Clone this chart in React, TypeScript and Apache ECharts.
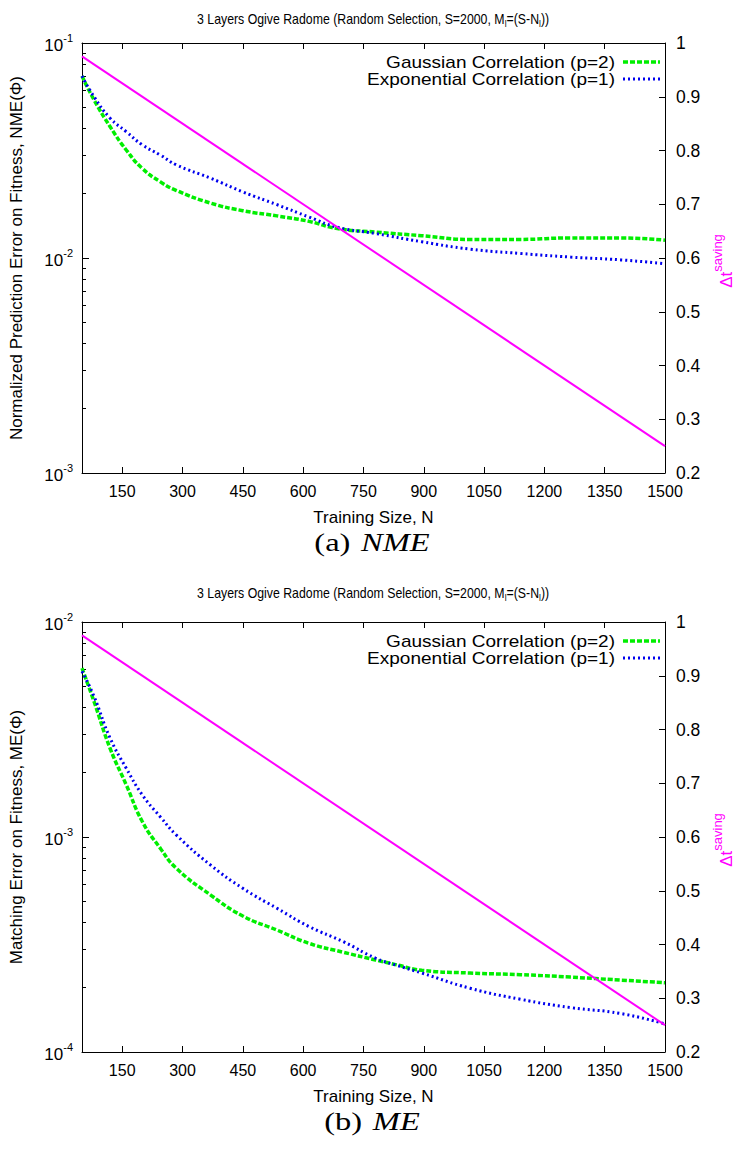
import React, { useEffect, useRef } from "react";
import * as echarts from "echarts";

// ---------- data ----------
const X_TICKS = [150, 300, 450, 600, 750, 900, 1050, 1200, 1350, 1500];
const RIGHT_MIN = 0.2;
const RIGHT_MAX = 1;

const N_TOP = [50, 80, 120, 160, 200, 245, 285, 370, 450, 535, 615, 685, 780, 895, 1015, 1140, 1265, 1390, 1500];
const NME_GAUSS = [0.0702, 0.0543, 0.0408, 0.0318, 0.0261, 0.0226, 0.0206, 0.018, 0.0166, 0.0157, 0.0148, 0.0137, 0.0132, 0.0127, 0.0122, 0.0122, 0.0124, 0.0124, 0.0121];
const NME_EXP = [0.0702, 0.0562, 0.0447, 0.0387, 0.0336, 0.0301, 0.0271, 0.0235, 0.0203, 0.0177, 0.0155, 0.0139, 0.013, 0.0119, 0.011, 0.0105, 0.0101, 0.0098, 0.0094];

const N_BOTTOM = [50, 80, 120, 160, 200, 245, 285, 370, 450, 535, 615, 700, 780, 830, 895, 1015, 1140, 1265, 1390, 1500];
const ME_GAUSS = [0.0061, 0.00426, 0.00258, 0.00175, 0.00118, 0.000885, 0.000714, 0.000537, 0.000429, 0.000369, 0.00032, 0.000291, 0.000268, 0.000255, 0.00024, 0.000233, 0.000229, 0.000223, 0.000216, 0.00021];
const ME_EXP = [0.0059, 0.0045, 0.00288, 0.00209, 0.00157, 0.00124, 0.00102, 0.00074, 0.000577, 0.000466, 0.000383, 0.000326, 0.000273, 0.000254, 0.000233, 0.000198, 0.000176, 0.000161, 0.000151, 0.000135];

const N_SAVING = [50, 1500];
const SAVING = [0.975, 0.25];

const LEGEND_NAMES = ["Gaussian Correlation (p=2)", "Exponential Correlation (p=1)"];
const LEFT_NAMES = ["Normalized Prediction Error on Fitness, NME(Φ)", "Matching Error on Fitness, ME(Φ)"];
const LOG_RANGES = [[1e-3, 1e-1], [1e-4, 1e-2]];
const CAPTION_LABELS = ["(a)", "(b)"];
const CAPTION_NAMES = ["NME", "ME"];
const X_NAME = "Training Size, N";
const TITLE = "3 Layers Ogive Radome (Random Selection, S=2000, M{u|l}=(S-N{u|l}))";

// ---------- style ----------
const FONT = '"Liberation Sans", Arial, Helvetica, sans-serif';
const SERIF = '"Liberation Serif", "DejaVu Serif", serif';
const GREEN = "#00ee00";
const BLUE = "#0000ee";
const PINK = "#ff00ff";
const PANEL_TOPS = [43, 622];
const TITLE_OFFSETS = [24, 29];
const PLOT_LEFT = 80;
const PLOT_W = 585;
const PLOT_H = 430;

function minorLogTicks(lo: number, hi: number): number[] {
  const out: number[] = [];
  const a = Math.round(Math.log10(lo));
  const b = Math.round(Math.log10(hi));
  for (let d = a; d < b; d++) {
    for (let k = 2; k <= 9; k++) out.push(d + Math.log10(k));
  }
  return out;
}

export default function App() {
  const ref = useRef<HTMLDivElement>(null);

  useEffect(() => {
    if (!ref.current) return;
    const chart = echarts.init(ref.current, undefined, { renderer: "svg" });

    const grids: any[] = [];
    const xAxes: any[] = [];
    const yAxes: any[] = [];
    const series: any[] = [];
    const graphics: any[] = [];

    const panels = [
      { n: N_TOP, g: NME_GAUSS, e: NME_EXP },
      { n: N_BOTTOM, g: ME_GAUSS, e: ME_EXP },
    ];

    panels.forEach((p, i) => {
      const top = PANEL_TOPS[i];
      const [lo, hi] = LOG_RANGES[i];
      grids.push({ left: PLOT_LEFT, top, width: PLOT_W, height: PLOT_H });

      const axisLine = { show: true, lineStyle: { color: "#000", width: 1 } };
      xAxes.push({
        gridIndex: i,
        type: "value",
        min: 50,
        max: 1500,
        position: "bottom",
        name: X_NAME,
        nameLocation: "middle",
        nameGap: 36,
        nameTextStyle: { fontSize: 17, color: "#000", fontFamily: FONT },
        axisLine,
        axisTick: { inside: true, length: 6, customValues: X_TICKS, lineStyle: { color: "#000" } },
        axisLabel: {
          customValues: X_TICKS,
          fontSize: 16,
          color: "#000",
          fontFamily: FONT,
          margin: 10,
          formatter: (v: number) => String(v),
        },
        splitLine: { show: false },
      });
      xAxes.push({
        gridIndex: i,
        type: "value",
        min: 50,
        max: 1500,
        position: "top",
        axisLine,
        axisTick: { inside: true, length: 6, customValues: X_TICKS, lineStyle: { color: "#000" } },
        axisLabel: { show: false },
        splitLine: { show: false },
      });

      yAxes.push({
        gridIndex: i,
        type: "log",
        logBase: 10,
        min: lo,
        max: hi,
        position: "left",
        name: LEFT_NAMES[i],
        nameLocation: "middle",
        nameGap: 57,
        nameRotate: 90,
        nameTextStyle: { fontSize: 17, color: "#000", fontFamily: FONT },
        axisLine,
        axisTick: { inside: true, length: 7, lineStyle: { color: "#000" } },
        axisLabel: {
          margin: 9,
          showMinLabel: true,
          showMaxLabel: true,
          formatter: (v: number) => `{b|10}{s|${Math.round(Math.log10(v))}}`,
          rich: {
            b: { fontSize: 17, color: "#000", fontFamily: FONT, lineHeight: 22, verticalAlign: "bottom" },
            s: { fontSize: 11, color: "#000", fontFamily: FONT, lineHeight: 11, verticalAlign: "top" },
          },
        },
        splitLine: { show: false },
      });
      yAxes.push({
        gridIndex: i,
        type: "value",
        min: Math.log10(lo),
        max: Math.log10(hi),
        position: "left",
        axisLine: { show: false },
        axisTick: { inside: true, length: 4, customValues: minorLogTicks(lo, hi), lineStyle: { color: "#000" } },
        axisLabel: { show: false },
        splitLine: { show: false },
      });
      yAxes.push({
        gridIndex: i,
        type: "value",
        min: RIGHT_MIN,
        max: RIGHT_MAX,
        interval: 0.1,
        position: "right",
        axisLine,
        axisTick: { inside: true, length: 6, lineStyle: { color: "#000" } },
        axisLabel: { fontSize: 17.5, color: "#000", fontFamily: FONT, margin: 11 },
        splitLine: { show: false },
      });

      series.push({
        type: "line",
        name: LEGEND_NAMES[0],
        xAxisIndex: 2 * i,
        yAxisIndex: 3 * i,
        data: p.n.map((n, j) => [n, p.g[j]]),
        smooth: 0.5,
        showSymbol: false,
        lineStyle: { color: GREEN, width: 3.5, type: [5, 2] },
        z: 3,
      });
      series.push({
        type: "line",
        name: LEGEND_NAMES[1],
        xAxisIndex: 2 * i,
        yAxisIndex: 3 * i,
        data: p.n.map((n, j) => [n, p.e[j]]),
        smooth: 0.5,
        showSymbol: false,
        lineStyle: { color: BLUE, width: 3, type: [2, 3] },
        z: 4,
      });
      series.push({
        type: "line",
        name: "saving",
        xAxisIndex: 2 * i,
        yAxisIndex: 3 * i + 2,
        data: N_SAVING.map((n, j) => [n, SAVING[j]]),
        showSymbol: false,
        lineStyle: { color: PINK, width: 2 },
        z: 5,
      });

      // title
      graphics.push({
        type: "text",
        x: 373,
        y: top - TITLE_OFFSETS[i],
        scaleX: 0.88,
        style: {
          text: TITLE,
          font: `14px ${FONT}`,
          fill: "#000",
          align: "center",
          verticalAlign: "middle",
          lineHeight: 20,
          rich: {
            u: { fontSize: 9.5, fontFamily: FONT, fill: "#000", lineHeight: 10, verticalAlign: "bottom" },
          },
        },
      });
      // legend
      LEGEND_NAMES.forEach((name, k) => {
        const ly = top + 19 + k * 17;
        graphics.push({
          type: "text",
          x: 615,
          y: ly,
          scaleX: 1.12,
          style: { text: name, font: `17px ${FONT}`, fill: "#000", align: "right", verticalAlign: "middle" },
        });
        graphics.push({
          type: "line",
          shape: { x1: 623, y1: ly, x2: 660, y2: ly },
          style: {
            stroke: k === 0 ? GREEN : BLUE,
            lineWidth: k === 0 ? 3.5 : 3,
            lineDash: k === 0 ? [5, 2] : [2, 3],
          },
        });
      });
      // right axis name
      graphics.push({
        type: "text",
        x: 723,
        y: top + 218,
        rotation: Math.PI / 2,
        style: {
          text: "{b|Δt}{s|saving}",
          align: "center",
          verticalAlign: "middle",
          rich: {
            b: { fontSize: 17, fontFamily: FONT, fill: PINK, lineHeight: 24, verticalAlign: "bottom" },
            s: { fontSize: 13, fontFamily: FONT, fill: PINK, lineHeight: 13, verticalAlign: "top" },
          },
        },
      });
      // caption
      graphics.push({
        type: "text",
        x: 372,
        y: top + PLOT_H + 69,
        scaleX: 1.3,
        style: {
          text: `${CAPTION_LABELS[i]} {i|${CAPTION_NAMES[i]}}`,
          font: `25px ${SERIF}`,
          fill: "#000",
          align: "center",
          verticalAlign: "middle",
          rich: { i: { fontSize: 25, fontFamily: SERIF, fontStyle: "italic", fill: "#000", padding: [0, 0, 0, 2] } },
        },
      });
    });

    chart.setOption({
      animation: false,
      backgroundColor: "#fff",
      grid: grids,
      xAxis: xAxes,
      yAxis: yAxes,
      series,
      graphic: graphics,
    });

    return () => chart.dispose();
  }, []);

  return (
    <div
      ref={ref}
      style={{ position: "absolute", left: 0, top: 0, width: 740, height: 1151 }}
    />
  );
}
